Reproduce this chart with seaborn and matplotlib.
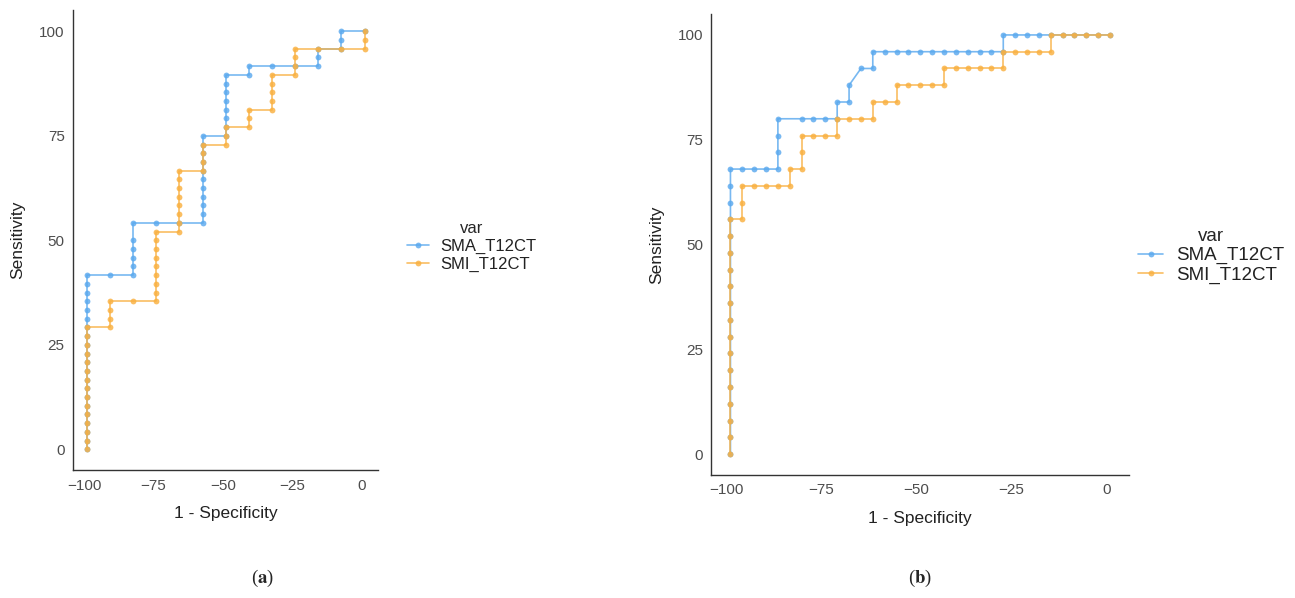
import pandas as pd
import matplotlib.pyplot as plt
import seaborn as sns

# ---- panel (a): 1 - Specificity vs Sensitivity ----
a_sma_x = [-99] * 21 + [-90.67] + [-82.33] * 6 + [-74, -65.67] + [-57.33] * 11 \
    + [-49] * 8 + [-40.67] * 2 + [-32.33, -24] + [-15.67] * 3 + [-7.33] * 3 + [1]
a_sma_y = [0, 2.08, 4.17, 6.25, 8.33, 10.42, 12.5, 14.58, 16.67, 18.75, 20.83,
           22.92, 25, 27.08, 29.17, 31.25, 33.33, 35.42, 37.5, 39.58, 41.67,
           41.67,
           41.67, 43.75, 45.83, 47.92, 50, 54.17,
           54.17, 54.17,
           54.17, 56.25, 58.33, 60.42, 62.5, 64.58, 66.67, 68.75, 70.83, 72.92, 75,
           75, 77.08, 79.17, 81.25, 83.33, 85.42, 87.5, 89.58,
           89.58, 91.67,
           91.67, 91.67,
           91.67, 93.75, 95.83,
           95.83, 97.92, 100,
           100]

a_smi_x = [-99] * 15 + [-90.67] * 4 + [-82.33] + [-74] * 9 + [-65.67] * 8 \
    + [-57.33] * 4 + [-49] * 3 + [-40.67] * 3 + [-32.33] * 5 + [-24] * 4 \
    + [-15.67, -7.33] + [1] * 3
a_smi_y = [0, 2.08, 4.17, 6.25, 8.33, 10.42, 12.5, 14.58, 16.67, 18.75, 20.83,
           22.92, 25, 27.08, 29.17,
           29.17, 31.25, 33.33, 35.42,
           35.42,
           35.42, 37.5, 39.58, 41.67, 43.75, 45.83, 47.92, 50, 52.08,
           52.08, 54.17, 56.25, 58.33, 60.42, 62.5, 64.58, 66.67,
           66.67, 68.75, 70.83, 72.92,
           72.92, 75, 77.08,
           77.08, 79.17, 81.25,
           81.25, 83.33, 85.42, 87.5, 89.58,
           89.58, 91.67, 93.75, 95.83,
           95.83, 95.83,
           95.83, 97.92, 100]

# ---- panel (b) ----
b_sma_x = [-99] * 18 + [-95.88, -92.75, -89.62] + [-86.5] * 4 \
    + [-80.25, -77.12, -74] + [-70.88] * 2 + [-67.75] * 2 + [-64.62] + [-61.5] * 2 \
    + [-58.38, -55.25, -52.12, -49, -45.88, -42.75, -39.62, -36.5, -33.38, -30.25] \
    + [-27.12] * 2 + [-24, -20.88, -17.75, -14.62, -11.5, -8.38, -5.25, -2.12, 1]
b_sma_y = [0, 4, 8, 12, 16, 20, 24, 28, 32, 36, 40, 44, 48, 52, 56, 60, 64, 68,
           68, 68, 68,
           68, 72, 76, 80,
           80, 80, 80,
           80, 84,
           84, 88,
           92,
           92, 96,
           96, 96, 96, 96, 96, 96, 96, 96, 96, 96,
           96, 100,
           100, 100, 100, 100, 100, 100, 100, 100, 100]

b_smi_x = [-99] * 15 + [-95.88] * 3 + [-92.75, -89.62, -86.5] + [-83.38] * 2 \
    + [-80.25] * 3 + [-77.12, -74] + [-70.88] * 2 + [-67.75, -64.62] + [-61.5] * 2 \
    + [-58.38] + [-55.25] * 2 + [-52.12, -49, -45.88] + [-42.75] * 2 \
    + [-39.62, -36.5, -33.38, -30.25] + [-27.12] * 2 + [-24, -20.88, -17.75] \
    + [-14.62] * 2 + [-11.5, -8.38, -5.25, -2.12, 1]
b_smi_y = [0, 4, 8, 12, 16, 20, 24, 28, 32, 36, 40, 44, 48, 52, 56,
           56, 60, 64,
           64, 64, 64,
           64, 68,
           68, 72, 76,
           76, 76,
           76, 80,
           80, 80,
           80, 84,
           84,
           84, 88,
           88, 88, 88,
           88, 92,
           92, 92, 92, 92,
           92, 96,
           96, 96, 96,
           96, 100,
           100, 100, 100, 100, 100]

series_names = ["SMA_T12CT", "SMI_T12CT"]
colors = {"SMA_T12CT": "#5AA9EE", "SMI_T12CT": "#F9B040"}


def make_df(sma_x, sma_y, smi_x, smi_y):
    d1 = pd.DataFrame({"x": sma_x, "y": sma_y, "var": series_names[0]})
    d2 = pd.DataFrame({"x": smi_x, "y": smi_y, "var": series_names[1]})
    return pd.concat([d1, d2], ignore_index=True)


def draw(ax, df, leg_anchor, leg_size, spacing):
    sns.lineplot(data=df, x="x", y="y", hue="var", palette=colors,
                 hue_order=series_names, sort=False, estimator=None,
                 marker="o", markersize=4.2, markeredgewidth=0,
                 linewidth=1.2, alpha=0.82, ax=ax)
    ax.set_xlim(-104, 6)
    ax.set_ylim(-5, 105)
    ax.set_xticks([-100, -75, -50, -25, 0])
    ax.set_yticks([0, 25, 50, 75, 100])
    ax.set_xticklabels(["\u2212100", "\u221275", "\u221250", "\u221225", "0"])
    ax.tick_params(axis="both", length=3, width=0.9, colors="#333333",
                   labelcolor="#4D4D4D", labelsize=11, pad=3)
    for side in ["top", "right"]:
        ax.spines[side].set_visible(False)
    for side in ["left", "bottom"]:
        ax.spines[side].set_color("#333333")
        ax.spines[side].set_linewidth(1.0)
    ax.set_xlabel("1 - Specificity", fontsize=12.5, color="#222222", labelpad=10)
    ax.set_ylabel("Sensitivity", fontsize=12.5, color="#222222", labelpad=10)
    handles, labels = ax.get_legend_handles_labels()
    ax.legend(handles, labels, title="var", loc="center left",
              bbox_to_anchor=leg_anchor, bbox_transform=ax.figure.transFigure,
              frameon=False, fontsize=leg_size, title_fontsize=leg_size,
              handlelength=1.3, handletextpad=0.7, labelspacing=spacing,
              labelcolor="#222222")


sns.set_theme(style="white")
plt.rcParams["font.family"] = ["Liberation Sans", "DejaVu Sans"]

fig = plt.figure(figsize=(12.95, 5.98), dpi=100)
ax_a = fig.add_axes([0.0564, 0.2137, 0.2358, 0.7689])
ax_b = fig.add_axes([0.5494, 0.2057, 0.3224, 0.7709])

draw(ax_a, make_df(a_sma_x, a_sma_y, a_smi_x, a_smi_y), (0.303, 0.588), 12, 0.15)
draw(ax_b, make_df(b_sma_x, b_sma_y, b_smi_x, b_smi_y), (0.866, 0.572), 13.5, 0.1)

for xpos, letter in [(262 / 1295, "a"), (920 / 1295, "b")]:
    fig.text(xpos, 1 - 578 / 598, "(" + r"$\mathbf{" + letter + "}$" + ")",
             ha="center", va="center", fontsize=13.5, family="Liberation Serif",
             math_fontfamily="stix")

fig.savefig("out.png", dpi=100)
